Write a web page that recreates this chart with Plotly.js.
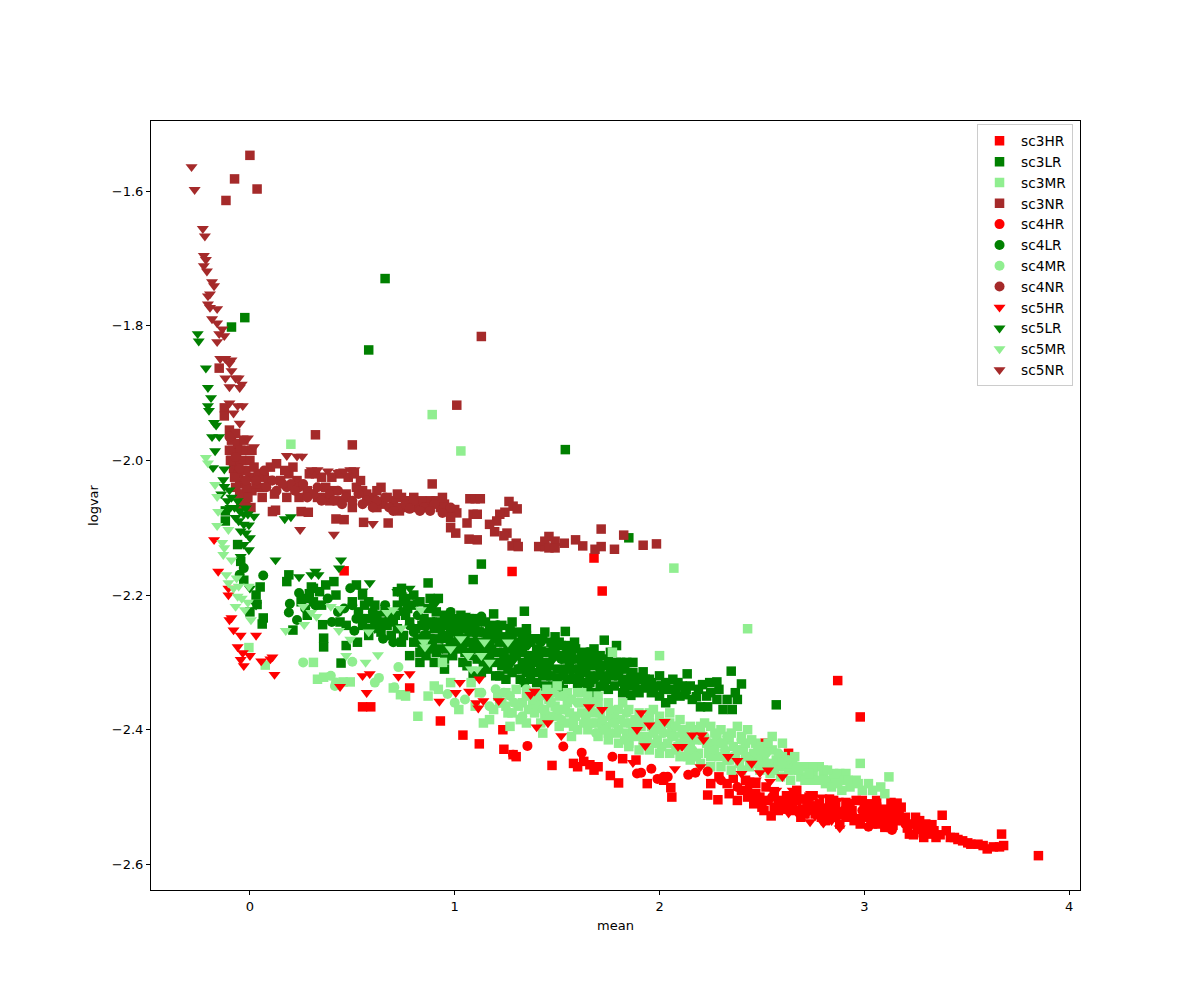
<!DOCTYPE html>
<html>
<head>
<meta charset="utf-8">
<script src="https://cdn.plot.ly/plotly-3.0.1.min.js"></script>
<style>
html, body { margin: 0; padding: 0; background: #fff; }
</style>
</head>
<body>
<div id="plot" style="width:1200px;height:1000px"></div>
<script>
// values, [mean, logvar]
const sc3HR = [
  [0.46,-2.164],[1.28,-2.165],[1.68,-2.145],[1.72,-2.194],[2.87,-2.327],[2.98,-2.381],[0.55,-2.366],[0.59,-2.366],
  [0.78,-2.338],[0.93,-2.387],[1.04,-2.408],[1.12,-2.421],[1.24,-2.429],[1.235,-2.40],[1.30,-2.44],[1.285,-2.437],
  [1.475,-2.453],[1.58,-2.45],[1.60,-2.455],[1.63,-2.447],[1.66,-2.452],[1.68,-2.46],[1.70,-2.455],[1.76,-2.468],
  [1.80,-2.479],[1.82,-2.443],[1.885,-2.445],[1.94,-2.48],[2.02,-2.475],[2.06,-2.5],[2.055,-2.486],[2.235,-2.497],
  [2.285,-2.504],[2.515,-2.42],[2.63,-2.435],[2.645,-2.453],[2.51,-2.52],[2.545,-2.528],[2.33,-2.48],[2.36,-2.472],
  [2.40,-2.49],[2.44,-2.478],[2.47,-2.495],[2.52,-2.485],[2.56,-2.492],[2.58,-2.505],[2.62,-2.498],[2.64,-2.512],
  [2.67,-2.49],[2.70,-2.503],[2.72,-2.515],[2.75,-2.498],[2.78,-2.51],[2.80,-2.522],[2.83,-2.503],[2.86,-2.515],
  [2.89,-2.526],[2.91,-2.508],[2.94,-2.52],[2.97,-2.532],[3.0,-2.515],[3.03,-2.51],[3.05,-2.527],[3.07,-2.54],
  [3.09,-2.518],[3.11,-2.53],[3.13,-2.508],[3.14,-2.542],[3.16,-2.509],[3.17,-2.525],[3.19,-2.535],[3.21,-2.546],
  [3.23,-2.54],[3.24,-2.556],[3.26,-2.548],[3.287,-2.553],[3.31,-2.55],[3.33,-2.541],[3.35,-2.56],[3.37,-2.556],
  [3.38,-2.527],[3.42,-2.56],[3.457,-2.563],[3.505,-2.568],[3.555,-2.57],[3.60,-2.577],[3.63,-2.574],[3.66,-2.574],
  [3.68,-2.572],[3.67,-2.555],[3.85,-2.587],[3.27,-2.535],[3.29,-2.56],[3.1,-2.545],[2.95,-2.535],[2.84,-2.53],
  [2.25,-2.48],[2.29,-2.47],[2.34,-2.495],[2.38,-2.505],[2.42,-2.475],[2.43,-2.50],[2.46,-2.51],[2.49,-2.50],
  [2.53,-2.505],[2.56,-2.515],[2.60,-2.51],[2.66,-2.52],[2.69,-2.53],[2.73,-2.50],[2.76,-2.525],[2.81,-2.535],
  [2.85,-2.505],[2.88,-2.54],[2.92,-2.53],[2.96,-2.505],[2.98,-2.54],[3.01,-2.53],[3.04,-2.54],[3.06,-2.515],
  [3.08,-2.53],[3.12,-2.52],[3.15,-2.535],[3.18,-2.515],[3.20,-2.53],[3.22,-2.555],[3.25,-2.53],[3.28,-2.545],
  [3.30,-2.54],[3.32,-2.555],[3.34,-2.55],[3.40,-2.55],[3.44,-2.56],[3.48,-2.565],[3.52,-2.57],[3.58,-2.572],
  [2.47,-2.48],[2.50,-2.515],[2.58,-2.52],[2.62,-2.518],[2.67,-2.505],[2.71,-2.525],[2.74,-2.513],[2.79,-2.53],
  [2.83,-2.52],[2.87,-2.525],[2.93,-2.51],[2.99,-2.505],[3.02,-2.52],[3.06,-2.505],[3.13,-2.545],[3.16,-2.52]
];
const sc3LR = [
  [0.66,-1.73],[0.58,-1.836],[-0.025,-1.788],[-0.09,-1.802],[1.54,-1.984],[1.85,-2.115],[2.57,-2.363],[1.13,-2.154],
  [1.09,-2.177],[1.34,-2.224],[0.19,-2.17],[0.18,-2.18],[0.30,-2.188],[0.05,-2.188],[0.065,-2.234],[0.06,-2.243],
  [0.355,-2.244],[0.21,-2.252],[0.36,-2.264],[0.36,-2.277],[0.47,-2.275],[0.525,-2.27],[0.445,-2.301],[0.87,-2.182],
  [-0.12,-2.09],[-0.12,-2.075],[-0.06,-2.125],[-0.045,-2.15],[-0.03,-2.178],[0.03,-2.2],[0.035,-2.214],[0.0,-2.225],
  [0.25,-2.21],[0.27,-2.205],[0.29,-2.198],[0.31,-2.19],[0.34,-2.195],[0.37,-2.185],[0.41,-2.18],[0.42,-2.2],
  [0.52,-2.185],[0.55,-2.2],[0.58,-2.21],[0.61,-2.215],[0.65,-2.24],[0.72,-2.195],[0.74,-2.19],[0.76,-2.205],
  [0.80,-2.2],[0.88,-2.205],[0.92,-2.205],[0.72,-2.25],[0.74,-2.27],[0.78,-2.29],[0.86,-2.29],[0.90,-2.3],
  [0.92,-2.28],[0.96,-2.232],[0.98,-2.25],[1.0,-2.27],[1.02,-2.24],[1.05,-2.285],[1.07,-2.255],[1.1,-2.235],
  [1.12,-2.27],[1.14,-2.3],[1.17,-2.25],[1.19,-2.228],[1.21,-2.285],[1.24,-2.262],[1.26,-2.31],[1.28,-2.24],
  [1.30,-2.275],[1.33,-2.3],[1.35,-2.25],[1.37,-2.29],[1.39,-2.265],[1.42,-2.31],[1.44,-2.255],[1.46,-2.285],
  [1.49,-2.262],[1.50,-2.31],[1.52,-2.275],[1.54,-2.254],[1.56,-2.3],[1.585,-2.27],[1.60,-2.333],[1.62,-2.29],
  [1.64,-2.31],[1.66,-2.33],[1.68,-2.28],[1.70,-2.3],[1.73,-2.267],[1.74,-2.32],[1.76,-2.285],[1.79,-2.275],
  [1.80,-2.31],[1.82,-2.345],[1.84,-2.3],[1.86,-2.349],[1.87,-2.30],[1.89,-2.322],[1.92,-2.314],[1.93,-2.338],
  [1.96,-2.33],[2.0,-2.32],[2.03,-2.36],[2.02,-2.34],[2.065,-2.325],[2.08,-2.345],[2.125,-2.348],[2.135,-2.317],
  [2.18,-2.351],[2.20,-2.366],[2.21,-2.333],[2.235,-2.366],[2.245,-2.33],[2.28,-2.329],[2.28,-2.355],[2.31,-2.37],
  [2.355,-2.37],[2.35,-2.313],[2.37,-2.345],[2.38,-2.355],[2.40,-2.332],
  [0.75,-2.21],[0.76,-2.23],[0.75,-2.26],[0.79,-2.215],[0.78,-2.24],[0.80,-2.27],[0.83,-2.21],[0.84,-2.245],
  [0.82,-2.265],[0.83,-2.285],[0.87,-2.22],[0.88,-2.24],[0.86,-2.26],[0.88,-2.28],[0.91,-2.225],[0.90,-2.25],
  [0.92,-2.265],[0.91,-2.285],[0.95,-2.23],[0.96,-2.245],[0.94,-2.26],[0.96,-2.28],[0.95,-2.295],[0.99,-2.235],
  [1.0,-2.255],[0.98,-2.27],[0.99,-2.29],[1.03,-2.23],[1.04,-2.25],[1.02,-2.265],[1.03,-2.28],[1.04,-2.30],
  [1.07,-2.235],[1.06,-2.25],[1.08,-2.27],[1.07,-2.29],[1.06,-2.305],[1.11,-2.24],[1.12,-2.255],[1.10,-2.28],
  [1.11,-2.295],[1.15,-2.24],[1.16,-2.26],[1.14,-2.275],[1.15,-2.29],[1.16,-2.31],[1.19,-2.245],[1.20,-2.265],
  [1.18,-2.28],[1.19,-2.30],[1.20,-2.32],[1.23,-2.245],[1.22,-2.27],[1.24,-2.285],[1.23,-2.305],[1.22,-2.32],
  [1.27,-2.25],[1.28,-2.265],[1.26,-2.28],[1.27,-2.295],[1.28,-2.315],[1.31,-2.255],[1.32,-2.27],[1.30,-2.29],
  [1.31,-2.31],[1.32,-2.325],[1.35,-2.26],[1.34,-2.275],[1.36,-2.295],[1.35,-2.315],[1.34,-2.33],[1.39,-2.265],
  [1.40,-2.28],[1.38,-2.30],[1.39,-2.315],[1.40,-2.33],[1.43,-2.265],[1.44,-2.285],[1.42,-2.30],[1.43,-2.32],
  [1.44,-2.335],[1.47,-2.27],[1.48,-2.29],[1.46,-2.305],[1.47,-2.32],[1.48,-2.335],[1.51,-2.27],[1.52,-2.29],
  [1.50,-2.325],[1.51,-2.335],[1.55,-2.275],[1.54,-2.295],[1.56,-2.31],[1.55,-2.325],[1.59,-2.28],[1.60,-2.295],
  [1.58,-2.31],[1.59,-2.325],[1.63,-2.285],[1.64,-2.30],[1.62,-2.315],[1.63,-2.33],[1.67,-2.285],[1.68,-2.305],
  [1.66,-2.32],[1.71,-2.29],[1.72,-2.305],[1.70,-2.32],[1.71,-2.335],[1.75,-2.295],[1.76,-2.31],[1.74,-2.325],
  [1.75,-2.34],[1.79,-2.30],[1.80,-2.32],[1.78,-2.335],[1.83,-2.31],[1.84,-2.325],[1.83,-2.34],[1.87,-2.315],
  [1.88,-2.33],[1.91,-2.325],[1.90,-2.345],[1.95,-2.325],[1.96,-2.345],[1.99,-2.335],[2.0,-2.35],[2.03,-2.33],
  [2.07,-2.34],[2.06,-2.355],[2.11,-2.335],[2.10,-2.35],[2.15,-2.335],[2.16,-2.355],[2.25,-2.345],
  [0.50,-2.21],[0.53,-2.225],[0.56,-2.215],[0.59,-2.235],[0.62,-2.23],[0.64,-2.255],[0.67,-2.245],[0.70,-2.24],
  [0.69,-2.26],[0.72,-2.215],[0.47,-2.245],[0.44,-2.24],[0.35,-2.215],[0.31,-2.21],[0.28,-2.23],
  [0.55,-2.245],[0.58,-2.26],[0.61,-2.24],[0.66,-2.225],[0.71,-2.23],[0.77,-2.22],[0.81,-2.25],[0.85,-2.235],
  [0.89,-2.27],[0.93,-2.24],[0.97,-2.26],[1.01,-2.245],[1.05,-2.265],[1.09,-2.245],[1.13,-2.28],[1.17,-2.27],
  [1.21,-2.255],[1.25,-2.30],[1.29,-2.285],[1.33,-2.285],[1.37,-2.27],[1.41,-2.29],[1.45,-2.31],[1.49,-2.28],
  [1.53,-2.32],[1.57,-2.29],[1.61,-2.31],[1.65,-2.34],[1.69,-2.295],[1.73,-2.335],[1.77,-2.32],[1.81,-2.30],
  [1.85,-2.335],[1.89,-2.34],[1.93,-2.325],[1.97,-2.34],[2.01,-2.335],[2.05,-2.34],[2.09,-2.33],[2.13,-2.34],
  [2.19,-2.34],[2.23,-2.35],[2.29,-2.34],[2.33,-2.355],[1.13,-2.315],[1.25,-2.325],[1.37,-2.325],[1.53,-2.34],
  [1.69,-2.345],[0.83,-2.30],[0.95,-2.31],[1.09,-2.32]
];
const sc3MR = [
  [0.89,-1.932],[1.03,-1.986],[0.2,-1.976],[2.07,-2.16],[2.43,-2.25],[3.12,-2.47],[2.98,-2.45],[0.31,-2.30],
  [0.075,-2.304],[-0.005,-2.278],[0.33,-2.325],[0.36,-2.322],[0.455,-2.329],[0.49,-2.329],[0.70,-2.338],[0.735,-2.348],
  [0.90,-2.335],[0.87,-2.35],[0.94,-2.30],[0.76,-2.35],[0.82,-2.38],[0.92,-2.34],[0.98,-2.33],[1.02,-2.37],
  [1.08,-2.33],[1.14,-2.39],[1.17,-2.385],[1.21,-2.35],[1.27,-2.395],[1.33,-2.36],[1.37,-2.345],[1.43,-2.405],
  [1.47,-2.36],[1.51,-2.395],[1.55,-2.345],[1.57,-2.41],[1.62,-2.375],[1.67,-2.39],[1.70,-2.35],[1.75,-2.415],
  [1.78,-2.38],[1.82,-2.36],[1.85,-2.42],[1.88,-2.385],[1.93,-2.41],[1.97,-2.37],[2.01,-2.425],[2.05,-2.39],
  [2.08,-2.43],[2.12,-2.40],[2.14,-2.44],[2.18,-2.415],[2.22,-2.39],[2.25,-2.44],[2.28,-2.41],[2.33,-2.445],
  [2.34,-2.415],[2.38,-2.395],[2.43,-2.40],[2.45,-2.44],[2.47,-2.42],[2.50,-2.45],[2.52,-2.43],[2.55,-2.41],
  [2.57,-2.445],[2.60,-2.42],[2.61,-2.45],[2.63,-2.46],[2.66,-2.44],[2.69,-2.47],[2.72,-2.455],[2.75,-2.465],
  [2.78,-2.455],[2.80,-2.47],[2.83,-2.475],[2.86,-2.47],[2.88,-2.465],[2.91,-2.465],[2.93,-2.485],[2.96,-2.475],
  [2.99,-2.49],[3.02,-2.48],[3.04,-2.49],[3.08,-2.485],[3.10,-2.495],[2.0,-2.29],[1.77,-2.285],[1.62,-2.345],
  [1.54,-2.37],[1.25,-2.365],[1.10,-2.365],[2.15,-2.42],[2.40,-2.43],[1.98,-2.40],[1.72,-2.40],[1.44,-2.38],
  [1.25,-2.345],[1.26,-2.375],[1.30,-2.34],[1.31,-2.365],[1.35,-2.35],[1.36,-2.37],[1.35,-2.39],[1.40,-2.345],
  [1.41,-2.36],[1.39,-2.375],[1.45,-2.34],[1.46,-2.355],[1.44,-2.37],[1.45,-2.385],[1.50,-2.335],[1.51,-2.35],
  [1.49,-2.365],[1.50,-2.38],[1.55,-2.36],[1.56,-2.375],[1.54,-2.39],[1.60,-2.345],[1.61,-2.36],[1.59,-2.38],
  [1.60,-2.40],[1.65,-2.35],[1.66,-2.365],[1.64,-2.385],[1.65,-2.40],[1.70,-2.36],[1.71,-2.375],[1.69,-2.39],
  [1.70,-2.41],[1.75,-2.36],[1.76,-2.38],[1.74,-2.395],[1.75,-2.405],[1.80,-2.37],[1.81,-2.385],[1.79,-2.405],
  [1.80,-2.42],[1.85,-2.37],[1.86,-2.39],[1.84,-2.405],[1.85,-2.425],[1.90,-2.375],[1.91,-2.395],[1.89,-2.41],
  [1.90,-2.43],[1.95,-2.375],[1.96,-2.395],[1.94,-2.415],[1.95,-2.43],[2.0,-2.38],[2.01,-2.40],[1.99,-2.415],
  [2.0,-2.435],[2.05,-2.375],[2.06,-2.40],[2.04,-2.42],[2.05,-2.435],[2.10,-2.385],[2.11,-2.405],[2.09,-2.425],
  [2.10,-2.44],[2.15,-2.395],[2.16,-2.41],[2.14,-2.43],[2.15,-2.445],[2.20,-2.395],[2.21,-2.415],[2.19,-2.435],
  [2.20,-2.45],[2.25,-2.395],[2.26,-2.42],[2.24,-2.435],[2.25,-2.455],[2.30,-2.40],[2.31,-2.42],[2.29,-2.44],
  [2.30,-2.455],[2.35,-2.405],[2.36,-2.425],[2.34,-2.445],[2.35,-2.46],[2.40,-2.41],[2.41,-2.43],[2.39,-2.45],
  [2.40,-2.46],[2.45,-2.415],[2.46,-2.435],[2.44,-2.455],[2.50,-2.425],[2.51,-2.44],[2.49,-2.46],[2.55,-2.43],
  [2.56,-2.45],[2.54,-2.465],[2.60,-2.44],[2.61,-2.455],[2.59,-2.47],[2.65,-2.445],[2.66,-2.46],[2.64,-2.475],
  [2.70,-2.455],[2.71,-2.475],[2.75,-2.455],[2.74,-2.475],[2.80,-2.46],[2.81,-2.48],[2.85,-2.465],[2.84,-2.485],
  [2.90,-2.475],[2.89,-2.49],
  [1.12,-2.345],[1.19,-2.37],[1.23,-2.36],[1.28,-2.375],[1.32,-2.385],[1.38,-2.365],[1.42,-2.39],[1.47,-2.38],
  [1.52,-2.37],[1.58,-2.395],[1.63,-2.36],[1.68,-2.375],[1.72,-2.39],[1.77,-2.39],[1.83,-2.39],[1.87,-2.40],
  [1.92,-2.385],[1.97,-2.405],[2.03,-2.39],[2.07,-2.41],[2.13,-2.415],[2.17,-2.40],[2.23,-2.42],[2.27,-2.405],
  [2.32,-2.435],[2.37,-2.44],[2.42,-2.42],[2.48,-2.44],[2.53,-2.42],[2.58,-2.455],[2.63,-2.45],[2.68,-2.46],
  [2.73,-2.465],[2.78,-2.475],[2.82,-2.46],[2.87,-2.48],[2.92,-2.475],[2.97,-2.48]
];
const sc3NR = [
  [0.0,-1.547],[-0.075,-1.582],[0.035,-1.597],[-0.117,-1.614],[1.13,-1.816],[1.01,-1.918],[0.32,-1.962],[0.50,-1.977],
  [0.89,-2.035],[0.125,-2.074],[0.11,-2.076],[0.25,-2.076],[0.285,-2.077],[0.42,-2.087],[0.46,-2.088],[0.555,-2.092],
  [0.675,-2.093],[-0.15,-1.863],[-0.125,-1.922],[-0.125,-1.934],[1.074,-2.057],[1.10,-2.057],[1.125,-2.057],[1.265,-2.061],
  [1.285,-2.068],[1.305,-2.072],[1.0,-2.073],[1.01,-2.078],[0.98,-2.10],[1.09,-2.08],[1.11,-2.08],[1.245,-2.077],
  [1.22,-2.08],[1.205,-2.09],[1.17,-2.095],[1.06,-2.093],[1.195,-2.106],[1.005,-2.108],[1.07,-2.117],[1.11,-2.118],
  [1.255,-2.108],[1.24,-2.112],[1.30,-2.123],[1.28,-2.127],[1.31,-2.128],[1.41,-2.128],[1.44,-2.128],[1.46,-2.113],
  [1.44,-2.12],[1.49,-2.12],[1.46,-2.13],[1.49,-2.13],[1.535,-2.123],[1.59,-2.118],[1.625,-2.127],[1.715,-2.102],
  [1.715,-2.128],[1.685,-2.132],[1.78,-2.132],[1.825,-2.111],[1.92,-2.126],[1.985,-2.124],
  [-0.10,-1.955],[-0.09,-1.97],[-0.085,-1.985],[-0.09,-2.0],[-0.08,-2.012],[-0.07,-1.96],[-0.06,-1.975],[-0.065,-1.99],
  [-0.06,-2.005],[-0.055,-2.02],[-0.05,-2.035],[-0.045,-1.985],[-0.04,-2.0],[-0.035,-2.015],[-0.03,-2.03],[-0.03,-2.05],
  [-0.02,-2.065],[0.0,-2.0],[0.0,-2.025],[0.01,-2.045],[0.04,-2.02],[0.05,-2.04],[0.10,-2.01],[0.13,-2.005],
  [0.15,-2.03],[0.19,-2.02],[0.21,-2.01],[0.28,-2.045],[0.44,-2.06],[0.52,-2.04],[0.55,-2.045],[0.60,-2.055],
  [0.64,-2.04],[0.70,-2.06],[0.74,-2.055],[0.78,-2.06],[0.82,-2.07],[0.88,-2.06],[0.93,-2.07],[0.96,-2.075],
  [-0.10,-1.985],[-0.095,-2.0],[-0.075,-2.025],[-0.07,-2.04],[-0.05,-2.05],[-0.045,-2.065],[-0.02,-2.015],[-0.015,-2.04],
  [-0.01,-2.055],[0.005,-2.07],[0.02,-2.01],[0.03,-2.035],[0.07,-2.025],[0.09,-2.03],[0.17,-2.015],[0.23,-2.03],
  [0.29,-2.02],[0.32,-2.02],[0.35,-2.025],[0.40,-2.025],[0.44,-2.02],[0.48,-2.025],[0.51,-2.02],[0.54,-2.03],
  [0.57,-2.05],[0.62,-2.045],[0.67,-2.055],[0.72,-2.05],[0.76,-2.06],[0.80,-2.055],[0.84,-2.06],[0.86,-2.07],
  [0.91,-2.06],[0.95,-2.065],[0.37,-2.04],[0.41,-2.045],[0.47,-2.05],[0.58,-2.06],[0.65,-2.065],[0.75,-2.07],
  [-0.02,-1.985],[0.01,-1.985],[-0.03,-1.97],[0.06,-2.055],[0.12,-2.05],[0.18,-2.055],[0.24,-2.055],[0.33,-2.055],
  [0.39,-2.06],[0.50,-2.07],[0.62,-2.07],[0.73,-2.075],[0.98,-2.085],[0.94,-2.055]
];
const sc4HR = [
  [1.355,-2.424],[1.53,-2.425],[1.62,-2.434],[1.285,-2.437],[1.77,-2.44],[1.96,-2.458],[1.91,-2.464],[1.89,-2.465],
  [2.14,-2.467],[2.175,-2.464],[2.235,-2.462],[2.02,-2.47],[2.04,-2.47],[1.99,-2.473],[2.465,-2.50],[3.02,-2.544],
  [3.135,-2.549],[2.945,-2.529],[2.30,-2.475],[2.38,-2.485],[2.43,-2.49],[2.60,-2.51],[2.68,-2.52],[2.77,-2.525],
  [2.86,-2.53],[3.05,-2.52],[3.10,-2.535],[3.20,-2.54],[2.50,-2.505],[2.55,-2.50],[2.64,-2.50],[2.72,-2.505],
  [2.82,-2.515],[2.90,-2.52],[2.99,-2.52],[3.07,-2.525],[3.15,-2.525],[3.24,-2.54]
];
const sc4LR = [
  [0.065,-2.171],[0.24,-2.197],[0.195,-2.213],[0.19,-2.226],[0.23,-2.237],[0.51,-2.253],[-0.03,-2.16],[-0.05,-2.17],
  [0.27,-2.22],[0.32,-2.215],[0.38,-2.205],[0.43,-2.225],[0.49,-2.19],[0.50,-2.215],[0.56,-2.235],[0.60,-2.225],
  [0.63,-2.25],[0.68,-2.235],[0.75,-2.225],[0.78,-2.245],[0.82,-2.23],[0.85,-2.26],[0.90,-2.24],[0.94,-2.265],
  [0.98,-2.225],[1.02,-2.26],[1.06,-2.24],[1.09,-2.28],[1.13,-2.255],[1.17,-2.29],[1.21,-2.245],[1.24,-2.29],
  [1.28,-2.255],[1.31,-2.31],[1.35,-2.275],[1.40,-2.285],[1.45,-2.30],[1.48,-2.275],[1.53,-2.31],[1.58,-2.295],
  [1.62,-2.30],[1.65,-2.285],[1.71,-2.31],[1.75,-2.30],[0.40,-2.24],[0.46,-2.22],[0.66,-2.215],[1.13,-2.232],
  [0.52,-2.235],[0.58,-2.25],[0.65,-2.265],[0.70,-2.27],[0.80,-2.255],[0.84,-2.275],[0.89,-2.265],[0.93,-2.25],
  [1.0,-2.24],[1.04,-2.275],[1.10,-2.25],[1.14,-2.27],[1.18,-2.26],[1.22,-2.30],[1.26,-2.27],[1.33,-2.26],
  [1.37,-2.305],[1.42,-2.27],[1.46,-2.32],[1.52,-2.295],[1.56,-2.325],[1.61,-2.32],[1.68,-2.325],[1.73,-2.325],
  [1.78,-2.315],[1.82,-2.33],[1.86,-2.32]
];
const sc4MR = [
  [0.50,-2.299],[0.725,-2.307],[0.395,-2.32],[0.415,-2.335],[0.63,-2.323],[0.61,-2.33],[0.705,-2.337],[0.965,-2.347],
  [1.0,-2.36],[1.05,-2.355],[1.13,-2.345],[1.17,-2.365],[1.20,-2.34],[1.24,-2.345],[1.29,-2.36],[1.33,-2.38],
  [1.35,-2.34],[1.40,-2.365],[1.42,-2.35],[1.46,-2.385],[1.50,-2.37],[1.53,-2.35],[1.58,-2.385],[1.60,-2.36],
  [1.65,-2.375],[1.69,-2.405],[1.72,-2.385],[1.76,-2.37],[1.80,-2.40],[1.84,-2.375],[1.87,-2.41],[1.90,-2.39],
  [1.95,-2.385],[1.98,-2.42],[2.02,-2.405],[2.06,-2.41],[2.10,-2.42],[2.16,-2.43],[2.20,-2.405],[2.24,-2.425],
  [2.30,-2.42],[2.32,-2.43],[2.36,-2.44],[2.40,-2.415],[2.44,-2.445],[2.48,-2.43],[2.53,-2.45],[2.58,-2.435],
  [2.62,-2.445],[0.26,-2.30],[0.42,-2.33],[1.22,-2.36],[1.27,-2.35],[1.38,-2.355],[1.43,-2.37],[1.48,-2.345],
  [1.52,-2.385],[1.57,-2.355],[1.63,-2.39],[1.67,-2.36],[1.73,-2.40],[1.78,-2.39],[1.83,-2.415],[1.88,-2.40],
  [1.92,-2.42],[2.0,-2.39],[2.08,-2.395],[2.12,-2.41],[2.18,-2.44],[2.22,-2.41],[2.27,-2.43],[2.33,-2.41],
  [2.38,-2.43],[2.42,-2.44],[2.47,-2.45],[2.52,-2.435],[2.56,-2.46],[2.60,-2.45],[2.67,-2.455]
];
const sc4NR = [
  [-0.10,-1.965],[-0.07,-1.995],[-0.05,-2.012],[-0.02,-2.03],[0.03,-2.03],[0.07,-2.015],[0.08,-2.04],[0.13,-2.045],
  [0.18,-2.04],[0.20,-2.035],[0.24,-2.04],[0.26,-2.035],[0.31,-2.05],[0.33,-2.04],[0.36,-2.055],[0.39,-2.05],
  [0.43,-2.045],[0.47,-2.055],[0.50,-2.06],[0.53,-2.05],[0.57,-2.06],[0.62,-2.06],[0.66,-2.055],[0.72,-2.07],
  [0.76,-2.065],[0.80,-2.06],[0.85,-2.07],[0.90,-2.065],[0.94,-2.078],[0.98,-2.07],[0.68,-2.07],[0.11,-2.03],
  [0.16,-2.035],[0.22,-2.045],[0.28,-2.055],[0.35,-2.06],[0.41,-2.06],[0.45,-2.065],[0.55,-2.065],[0.60,-2.07],
  [0.70,-2.075],[0.78,-2.072],[0.83,-2.075],[0.88,-2.075]
];
const sc5HR = [
  [-0.175,-2.118],[-0.155,-2.165],[-0.105,-2.19],[-0.105,-2.20],[-0.09,-2.234],[-0.10,-2.237],[-0.08,-2.252],[-0.045,-2.26],
  [0.03,-2.26],[-0.06,-2.277],[-0.035,-2.286],[0,-2.29],[-0.045,-2.296],[-0.03,-2.305],[0.055,-2.298],[0.11,-2.292],
  [0.10,-2.295],[0.12,-2.318],[0.44,-2.336],[0.55,-2.32],[0.585,-2.317],[0.725,-2.321],[0.78,-2.317],[0.57,-2.345],
  [1.025,-2.33],[1.12,-2.325],[1.005,-2.345],[1.07,-2.343],[1.105,-2.36],[1.14,-2.357],[1.115,-2.368],[1.215,-2.357],
  [0.925,-2.358],[1.37,-2.348],[1.39,-2.343],[1.45,-2.351],[1.40,-2.396],[1.655,-2.366],[1.72,-2.37],[1.91,-2.375],
  [2.025,-2.388],[1.95,-2.393],[1.455,-2.39],[1.52,-2.409],[1.87,-2.449],[1.93,-2.424],[1.89,-2.40],[2.16,-2.408],
  [2.205,-2.408],[2.215,-2.415],[2.09,-2.425],[2.11,-2.425],[2.335,-2.44],[2.38,-2.446],[2.20,-2.455],[2.075,-2.458],
  [2.53,-2.46],[2.49,-2.464],[2.54,-2.477],[2.60,-2.47],[2.88,-2.546],[2.735,-2.537],[2.80,-2.539],[2.685,-2.529],
  [2.63,-2.524],[2.59,-2.519],[2.76,-2.528],[2.84,-2.535],[2.70,-2.515],[2.62,-2.505],[2.90,-2.53],[2.47,-2.475],
  [2.40,-2.465],[2.45,-2.45],[2.66,-2.51],[2.72,-2.525],[2.78,-2.52],[2.82,-2.525],[2.86,-2.52],[2.93,-2.525],
  [2.57,-2.49],[2.65,-2.49],[2.74,-2.495],[2.79,-2.50],[2.87,-2.505],[2.68,-2.50]
];
const sc5LR = [
  [-0.255,-1.812],[-0.25,-1.823],[-0.215,-1.863],[-0.205,-1.892],[-0.19,-1.907],[-0.205,-1.919],[-0.20,-1.926],[-0.175,-1.944],
  [-0.165,-1.948],[-0.185,-1.965],[-0.15,-1.965],[-0.17,-1.986],[-0.18,-2.011],[-0.125,-2.013],[-0.13,-2.029],[-0.125,-2.039],
  [-0.10,-2.044],[-0.14,-2.05],[-0.11,-2.06],[-0.09,-2.055],[-0.075,-2.07],[-0.05,-2.075],[-0.03,-2.08],[-0.055,-2.09],
  [0.02,-2.083],[-0.02,-2.071],[-0.03,-2.095],[-0.005,-2.096],[-0.02,-2.108],[-0.005,-2.133],[-0.03,-2.125],[-0.045,-2.143],
  [0.125,-2.148],[0.445,-2.148],[0.435,-2.16],[0.17,-2.087],[0.20,-2.084],[0.24,-2.173],[0.30,-2.17],[0.32,-2.165],
  [0.335,-2.17],[0.585,-2.182],[0.55,-2.194],[0.72,-2.195],[0.74,-2.2],[0.78,-2.19],[0.82,-2.21],[0.68,-2.225],
  [0.90,-2.215],[0.94,-2.24],[1.0,-2.28],[1.05,-2.23],[1.10,-2.26],[1.15,-2.28],[1.20,-2.25],[1.25,-2.27],
  [1.30,-2.29],[1.36,-2.27],[1.42,-2.28],[1.47,-2.30],[1.55,-2.285],[1.60,-2.31],[1.66,-2.295],[0.61,-2.25],
  [0.03,-2.215],[0.0,-2.19],[-0.095,-2.07],[-0.07,-2.085],[-0.045,-2.105],[-0.01,-2.08],[0.0,-2.115],[-0.06,-2.06],
  [0.86,-2.25],[0.97,-2.27],[1.12,-2.295],[1.18,-2.27],[1.28,-2.30],[1.34,-2.31],[1.40,-2.30],[1.50,-2.32],
  [1.58,-2.32],[1.70,-2.32]
];
const sc5MR = [
  [-0.215,-1.996],[-0.205,-2.004],[-0.17,-2.036],[-0.16,-2.054],[-0.155,-2.076],[-0.16,-2.097],[-0.105,-2.103],[-0.135,-2.122],
  [-0.125,-2.13],[-0.13,-2.14],[-0.09,-2.148],[-0.115,-2.17],[-0.105,-2.182],[-0.065,-2.175],[-0.055,-2.187],[-0.005,-2.187],
  [-0.06,-2.202],[-0.07,-2.217],[-0.01,-2.211],[0.005,-2.237],[-0.04,-2.205],[-0.025,-2.222],[-0.08,-2.19],[0.26,-2.217],
  [0.30,-2.226],[0.325,-2.232],[0.395,-2.217],[0.44,-2.22],[0.265,-2.244],[0.175,-2.253],[0.435,-2.253],[0.49,-2.266],
  [0.565,-2.30],[0.625,-2.289],[0.67,-2.226],[0.70,-2.222],[0.835,-2.222],[0.74,-2.249],[0.85,-2.27],[0.855,-2.277],
  [0.98,-2.28],[1.03,-2.265],[1.065,-2.29],[1.13,-2.29],[1.11,-2.31],[1.08,-2.31],[1.145,-2.27],[1.17,-2.30],
  [1.26,-2.27],[0.58,-2.255],[0.47,-2.29]
];
const sc5NR = [
  [-0.285,-1.564],[-0.27,-1.598],[-0.23,-1.656],[-0.22,-1.667],[-0.225,-1.696],[-0.215,-1.702],[-0.225,-1.711],[-0.21,-1.719],
  [-0.185,-1.735],[-0.175,-1.741],[-0.195,-1.753],[-0.205,-1.756],[-0.205,-1.768],[-0.195,-1.773],[-0.16,-1.775],[-0.185,-1.79],
  [-0.16,-1.796],[-0.135,-1.805],[-0.15,-1.812],[-0.125,-1.815],[-0.16,-1.824],[-0.145,-1.849],[-0.12,-1.849],[-0.09,-1.851],
  [-0.10,-1.856],[-0.09,-1.867],[-0.12,-1.878],[-0.07,-1.878],[-0.055,-1.878],[-0.10,-1.891],[-0.05,-1.892],[-0.04,-1.887],
  [-0.10,-1.915],[-0.06,-1.919],[-0.035,-1.919],[-0.08,-1.93],[-0.05,-1.945],[-0.01,-1.967],[0.02,-1.98],[0.23,-1.994],
  [0.255,-1.994],[0.18,-1.993],[0.30,-2.014],[0.33,-2.014],[0.38,-2.016],[0.43,-2.018],[0.46,-2.016],[0.49,-2.014],
  [0.51,-2.014],[0.245,-2.103],[0.41,-2.11],[0.60,-2.094]
];

const series = [
  ['sc3HR', sc3HR, 'red', 'square'], ['sc3LR', sc3LR, 'green', 'square'],
  ['sc3MR', sc3MR, 'lightgreen', 'square'], ['sc3NR', sc3NR, 'brown', 'square'],
  ['sc4HR', sc4HR, 'red', 'circle'], ['sc4LR', sc4LR, 'green', 'circle'],
  ['sc4MR', sc4MR, 'lightgreen', 'circle'], ['sc4NR', sc4NR, 'brown', 'circle'],
  ['sc5HR', sc5HR, 'red', 'triangle-down'], ['sc5LR', sc5LR, 'green', 'triangle-down'],
  ['sc5MR', sc5MR, 'lightgreen', 'triangle-down'], ['sc5NR', sc5NR, 'brown', 'triangle-down']
];
const sizes = { 'square': 9.5, 'circle': 10, 'triangle-down': 10.5 };

const traces = series.map(s => ({
  x: s[1].map(p => p[0]),
  y: s[1].map(p => p[1]),
  name: s[0],
  type: 'scatter',
  mode: 'markers',
  marker: { color: s[2], symbol: s[3], size: sizes[s[3]], line: { width: 0 } }
}));

const axisStyle = {
  showgrid: false,
  zeroline: false,
  showline: true,
  mirror: true,
  linecolor: '#000',
  linewidth: 1,
  ticks: 'outside',
  ticklen: 4,
  tickcolor: '#000',
  tickwidth: 1
};

const layout = {
  width: 1200,
  height: 1000,
  margin: { l: 151, r: 120, t: 121, b: 110, pad: 0 },
  paper_bgcolor: '#fff',
  plot_bgcolor: '#fff',
  font: { family: 'DejaVu Sans', size: 13, color: '#000' },
  xaxis: Object.assign({}, axisStyle, {
    range: [-0.483, 4.053],
    tick0: 0,
    dtick: 1,
    title: { text: 'mean', standoff: 8, font: { size: 13 } }
  }),
  yaxis: Object.assign({}, axisStyle, {
    range: [-2.638, -1.496],
    tick0: -2,
    dtick: 0.2,
    tickformat: '.1f',
    title: { text: 'logvar', standoff: 10, font: { size: 13 } }
  }),
  legend: {
    x: 0.9925,
    y: 0.9955,
    xanchor: 'right',
    yanchor: 'top',
    bordercolor: '#ccc',
    borderwidth: 1,
    bgcolor: 'rgba(255,255,255,0.8)',
    traceorder: 'normal',
    itemwidth: 33,
    font: { size: 13.7 }
  },
  showlegend: true
};

Plotly.newPlot('plot', traces, layout, { displayModeBar: false });
</script>
</body>
</html>
